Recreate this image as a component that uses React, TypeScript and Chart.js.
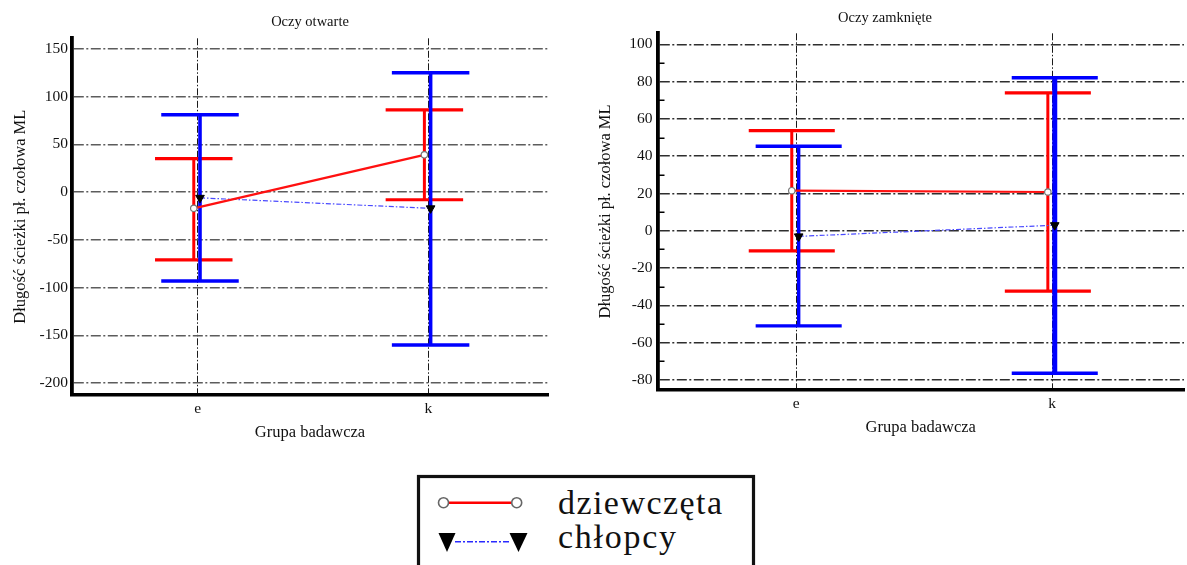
import React, { useEffect, useRef } from 'react';
import { Chart, registerables } from 'chart.js';

Chart.register(...registerables);

// ---------- data ----------
const categories = ['e', 'k'];
const seriesNames = ['dziewczęta', 'chłopcy'];

const openTitle = 'Oczy otwarte';
const closedTitle = 'Oczy zamknięte';
const yAxisTitle = 'Długość ścieżki pł. czołowa ML';
const xAxisTitle = 'Grupa badawcza';

const openTicks = [150, 100, 50, 0, -50, -100, -150, -200];
const closedTicks = [100, 80, 60, 40, 20, 0, -20, -40, -60, -80];
const closedMinorTicks = [90, 70, 50, 30, 10, -10, -30, -50, -70];

const openGirlsMean = [-17, 39];
const openGirlsLow = [-71, -8];
const openGirlsHigh = [35, 86];
const openBoysMean = [-6, -17];
const openBoysLow = [-93, -160];
const openBoysHigh = [81, 125];

const closedGirlsMean = [21.5, 20.8];
const closedGirlsLow = [-10.8, -32.4];
const closedGirlsHigh = [53.7, 74];
const closedBoysMean = [-3, 3];
const closedBoysLow = [-51, -76.4];
const closedBoysHigh = [45.3, 82.1];

// ---------- styles ----------
const FONT = "'Liberation Serif', 'Times New Roman', serif";
const CAP = 0.168;
const GIRL_SHIFT = -0.017;
const BOY_SHIFT = 0.01;

const errorBarPlugin = {
  id: 'errorBars',
  beforeDatasetsDraw(chart: any) {
    const { ctx } = chart;
    const xs = chart.scales.x;
    const ys = chart.scales.y;
    chart.data.datasets.forEach((ds: any) => {
      ds.data.forEach((pt: any, i: number) => {
        const px = xs.getPixelForValue(pt.x);
        const top = ys.getPixelForValue(ds.errHigh[i]);
        const bot = ys.getPixelForValue(ds.errLow[i]);
        const l = xs.getPixelForValue(pt.x - CAP);
        const r = xs.getPixelForValue(pt.x + CAP);
        ctx.save();
        ctx.strokeStyle = ds.errColor;
        ctx.lineCap = 'butt';
        ctx.lineWidth = ds.errWidth[i];
        ctx.beginPath();
        ctx.moveTo(px, top);
        ctx.lineTo(px, bot);
        ctx.stroke();
        ctx.lineWidth = ds.capWidth;
        ctx.beginPath();
        ctx.moveTo(l, top);
        ctx.lineTo(r, top);
        ctx.moveTo(l, bot);
        ctx.lineTo(r, bot);
        ctx.stroke();
        ctx.restore();
      });
    });
  },
};

function makeMinorTickPlugin(values: number[]) {
  return {
    id: 'minorTicks',
    afterDraw(chart: any) {
      const { ctx, chartArea } = chart;
      const ys = chart.scales.y;
      ctx.save();
      ctx.strokeStyle = '#000';
      ctx.lineWidth = 1.5;
      values.forEach((v) => {
        const py = Math.round(ys.getPixelForValue(v)) + 0.25;
        ctx.beginPath();
        ctx.moveTo(chartArea.left, py);
        ctx.lineTo(chartArea.left + 7, py);
        ctx.stroke();
      });
      ctx.restore();
    },
  };
}

interface PanelParams {
  title: string;
  titleFullSize: boolean;
  titlePad: { top: number; bottom: number };
  girlsMean: number[];
  girlsLow: number[];
  girlsHigh: number[];
  boysMean: number[];
  boysLow: number[];
  boysHigh: number[];
  yTicks: number[];
  yMin: number;
  yMax: number;
  xMin: number;
  xMax: number;
  yAxisWidth: number;
  xAxisHeight: number;
  yTitlePad: number;
  xTitlePad: number;
  xTickPad: number;
  yTickPad: number;
  gridColor: string;
  boysWidths: number[];
  paddingRight: number;
  extraPlugins: any[];
}

function makeConfig(p: PanelParams): any {
  const tickFont = { family: FONT, size: 15.5 };
  const titleFont = { family: FONT, size: 16.5 };
  return {
    type: 'line',
    data: {
      datasets: [
        {
          label: seriesNames[0],
          data: categories.map((_, i) => ({ x: i + GIRL_SHIFT, y: p.girlsMean[i] })),
          borderColor: '#ff1010',
          borderWidth: 2.2,
          backgroundColor: '#ffffff',
          tension: 0,
          pointStyle: 'circle',
          pointRadius: 3.2,
          pointBackgroundColor: '#ffffff',
          pointBorderColor: '#777777',
          pointBorderWidth: 1.2,
          errLow: p.girlsLow,
          errHigh: p.girlsHigh,
          errColor: '#ff0000',
          errWidth: [3, 3],
          capWidth: 3.2,
        },
        {
          label: seriesNames[1],
          data: categories.map((_, i) => ({ x: i + BOY_SHIFT, y: p.boysMean[i] })),
          borderColor: '#4a4aff',
          borderWidth: 1.2,
          borderDash: [5, 2, 1.5, 2],
          backgroundColor: '#000000',
          tension: 0,
          pointStyle: 'triangle',
          pointRotation: 180,
          pointRadius: 5,
          pointBackgroundColor: '#000000',
          pointBorderColor: '#000000',
          pointBorderWidth: 1,
          errLow: p.boysLow,
          errHigh: p.boysHigh,
          errColor: '#0000ff',
          errWidth: p.boysWidths,
          capWidth: 3.4,
        },
      ],
    },
    options: {
      responsive: false,
      animation: false,
      events: [],
      layout: { padding: { left: 0, right: p.paddingRight, top: 0, bottom: 0 } },
      plugins: {
        legend: { display: false },
        tooltip: { enabled: false },
        title: {
          display: true,
          text: p.title,
          fullSize: p.titleFullSize,
          color: '#111',
          font: { family: FONT, size: 14.5, weight: 'normal' },
          padding: p.titlePad,
        },
      },
      scales: {
        x: {
          type: 'linear',
          min: p.xMin,
          max: p.xMax,
          afterBuildTicks: (s: any) => {
            s.ticks = categories.map((_, i) => ({ value: i }));
          },
          afterFit: (s: any) => {
            s.height = p.xAxisHeight;
          },
          ticks: {
            callback: (v: any) => categories[v] ?? '',
            font: tickFont,
            color: '#111',
            padding: p.xTickPad,
            maxRotation: 0,
            autoSkip: false,
          },
          grid: { color: '#1a1a1a', lineWidth: 1, drawTicks: false },
          border: { display: true, color: '#000', width: 3.5, dash: [7, 2, 1.5, 2] },
          title: {
            display: true,
            text: xAxisTitle,
            color: '#111',
            font: titleFont,
            padding: { top: 0, bottom: p.xTitlePad },
          },
        },
        y: {
          type: 'linear',
          min: p.yMin,
          max: p.yMax,
          afterBuildTicks: (s: any) => {
            s.ticks = p.yTicks.map((v) => ({ value: v }));
          },
          afterFit: (s: any) => {
            s.width = p.yAxisWidth;
          },
          ticks: {
            callback: (v: any) => `${v}`,
            font: tickFont,
            color: '#111',
            padding: p.yTickPad,
            autoSkip: false,
          },
          grid: { color: p.gridColor, lineWidth: 1.6, drawTicks: false },
          border: { display: true, color: '#000', width: 3.8, dash: [10, 2.5, 2, 2.5] },
          title: {
            display: true,
            text: yAxisTitle,
            color: '#111',
            font: titleFont,
            padding: { top: p.yTitlePad, bottom: 0 },
          },
        },
      },
    },
    plugins: [errorBarPlugin, ...p.extraPlugins],
  };
}

function ChartPanel(props: { params: PanelParams; left: number; width: number; height: number }) {
  const ref = useRef<HTMLCanvasElement | null>(null);
  useEffect(() => {
    if (!ref.current) return;
    const chart = new Chart(ref.current, makeConfig(props.params));
    return () => chart.destroy();
  }, []);
  return (
    <canvas
      ref={ref}
      width={props.width}
      height={props.height}
      style={{ position: 'absolute', left: props.left, top: 0, width: props.width, height: props.height, display: 'block' }}
    />
  );
}

const openParams: PanelParams = {
  title: openTitle,
  titleFullSize: false,
  titlePad: { top: 13.3, bottom: 7.6 },
  girlsMean: openGirlsMean,
  girlsLow: openGirlsLow,
  girlsHigh: openGirlsHigh,
  boysMean: openBoysMean,
  boysLow: openBoysLow,
  boysHigh: openBoysHigh,
  yTicks: openTicks,
  yMin: -212.4,
  yMax: 161,
  xMin: -0.545,
  xMax: 1.519,
  yAxisWidth: 72,
  xAxisHeight: 55,
  yTitlePad: 10.4,
  xTitlePad: 7.5,
  xTickPad: 4.5,
  yTickPad: 4,
  gridColor: '#5c5c5c',
  boysWidths: [3.6, 3.6],
  paddingRight: 12,
  extraPlugins: [],
};

const closedParams: PanelParams = {
  title: closedTitle,
  titleFullSize: true,
  titlePad: { top: 9.6, bottom: 6.3 },
  girlsMean: closedGirlsMean,
  girlsLow: closedGirlsLow,
  girlsHigh: closedGirlsHigh,
  boysMean: closedBoysMean,
  boysLow: closedBoysLow,
  boysHigh: closedBoysHigh,
  yTicks: closedTicks,
  yMin: -85.1,
  yMax: 105.9,
  xMin: -0.5413,
  xMax: 1.5147,
  yAxisWidth: 77.5,
  xAxisHeight: 60.5,
  yTitlePad: 15.4,
  xTitlePad: 12.5,
  xTickPad: 5.3,
  yTickPad: 5,
  gridColor: '#2e2e2e',
  boysWidths: [3.4, 5],
  paddingRight: 0,
  extraPlugins: [makeMinorTickPlugin(closedMinorTicks)],
};

function Legend() {
  return (
    <svg width={1187} height={565} style={{ position: 'absolute', left: 0, top: 0, pointerEvents: 'none' }}>
      <rect x={418.5} y={476.5} width={335} height={120} fill="#fff" stroke="#111" strokeWidth={3.2} />
      <line x1={449} y1={502.7} x2={511} y2={502.7} stroke="#ff0000" strokeWidth={2.6} />
      <circle cx={443.5} cy={502.7} r={5} fill="#fff" stroke="#666" strokeWidth={1.6} />
      <circle cx={516.7} cy={502.7} r={5} fill="#fff" stroke="#666" strokeWidth={1.6} />
      <line x1={455} y1={541.7} x2={510} y2={541.7} stroke="#2a2aff" strokeWidth={1.5} strokeDasharray="6 2 2 2" />
      <polygon points="438.5,533 455.5,533 447,552" fill="#000" />
      <polygon points="509.5,533 527.5,533 518.5,552" fill="#000" />
      <text x={558} y={514} fontFamily={FONT} fontSize={34} fill="#111" textLength={164} lengthAdjust="spacing">{seriesNames[0]}</text>
      <text x={558} y={548} fontFamily={FONT} fontSize={34} fill="#111" textLength={118} lengthAdjust="spacing">{seriesNames[1]}</text>
    </svg>
  );
}

export default function App() {
  return (
    <div style={{ position: 'fixed', left: 0, top: 0, width: 1187, height: 565, overflow: 'hidden', background: '#fff' }}>
      <ChartPanel params={openParams} left={0} width={560} height={450} />
      <ChartPanel params={closedParams} left={580} width={610} height={450} />
      <Legend />
    </div>
  );
}
